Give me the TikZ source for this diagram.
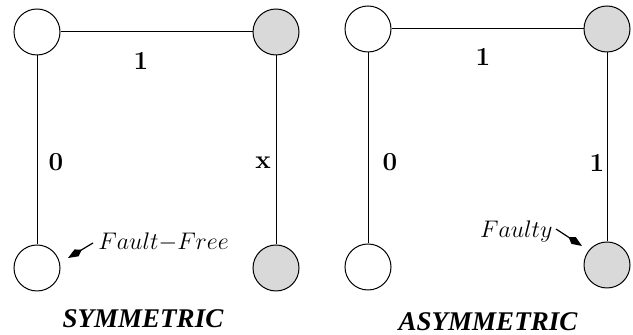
\documentclass[tikz,border=0pt]{standalone}
\usepackage{fontspec}
\usetikzlibrary{arrows.meta}
\newfontfamily\titlefont{Liberation Serif}
\definecolor{faultgray}{RGB}{217,217,217}
\begin{document}
\begin{tikzpicture}[x=0.5pt,y=-0.5pt,
  good/.style={circle,draw,line width=0.5pt,minimum size=23pt,inner sep=0pt,fill=white},
  bad/.style={good,fill=faultgray},
  link/.style={line width=0.5pt},
  lab/.style={font=\fontsize{13}{15}\selectfont\bfseries,inner sep=0pt},
  note/.style={font=\fontsize{13}{15}\selectfont,inner sep=0pt},
  title/.style={font=\titlefont\fontsize{13.5}{16}\selectfont\bfseries\itshape,inner sep=0pt},
  ptr/.style={line width=0.6pt,-{Kite[length=8pt,width=4pt,inset=3pt]}}]
\useasboundingbox (0,0) rectangle (633,335);
% symmetric
\node[good] (a1) at (37,32) {};
\node[bad]  (a2) at (276,32) {};
\node[good] (a3) at (37,268) {};
\node[bad]  (a4) at (276,268) {};
\draw[link] (a1) -- (a2);
\draw[link] (a1) -- (a3);
\draw[link] (a2) -- (a4);
\node[lab] (la) at (141,61) {1};
\node[lab] (lb) at (56,162) {0};
\node[lab] (lc) at (263,163) {x};
\node[note,anchor=base west] (ff) at (98,250) {$Fault{-}Free$};
\coordinate (ffs) at (93,243);
\coordinate (fft) at (68,258);
\draw[ptr] (ffs) -- (fft);
\node[title] (t1) at (143,319) {SYMMETRIC};
% asymmetric
\node[good] (b1) at (368,29) {};
\node[bad]  (b2) at (607,29) {};
\node[good] (b3) at (368,267) {};
\node[bad]  (b4) at (607,265) {};
\draw[link] (b1) -- (b2);
\draw[link] (b1) -- (b3);
\draw[link] (b2) -- (b4);
\node[lab] (ld) at (483,57) {1};
\node[lab] (le) at (390,162) {0};
\node[lab] (lf) at (597,163) {1};
\node[note,anchor=base east] (fy) at (553,238) {$Faulty$};
\coordinate (fys) at (556,229);
\coordinate (fyt) at (582,246);
\draw[ptr] (fys) -- (fyt);
\node[title] (t2) at (488,322) {ASYMMETRIC};
\end{tikzpicture}
\end{document}
